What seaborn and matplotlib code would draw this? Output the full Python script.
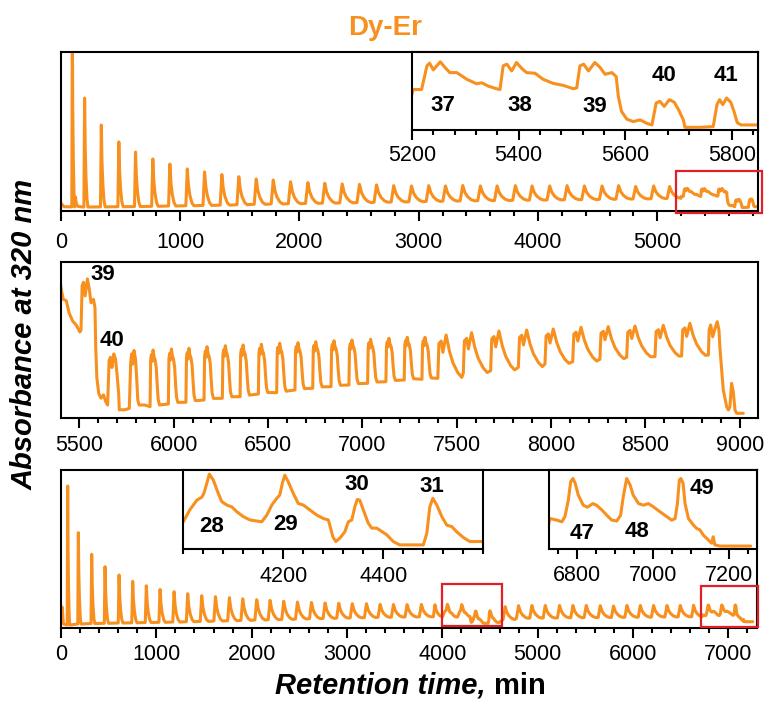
import matplotlib
matplotlib.use("Agg")
import matplotlib.pyplot as plt
import pandas as pd
import seaborn as sns
from matplotlib.patches import Rectangle
from matplotlib.ticker import MultipleLocator, FixedLocator

ORANGE = "#F7901E"
RED = "#E21F26"

# ---------------------------------------------------------------------------
# Run A (upper and middle panels): retention time in min, absorbance in a.u.
# ---------------------------------------------------------------------------
run_a_start_t = [0, 25]
run_a_start_y = [38, 13]

# individual elution peaks: apex time, apex height, baseline before, width
run_a_peak_t = [95, 122, 198, 338, 485, 625, 770, 913, 1059, 1204, 1349, 1491, 1637,
                1780, 1925, 2070, 2212, 2358, 2503, 2646, 2790, 2939, 3084, 3224, 3369,
                3517, 3657, 3810, 3950, 4098, 4244, 4389, 4537, 4676, 4819, 4970, 5104]
run_a_peak_y = [1250, 80, 766, 579, 462, 392, 344, 309, 275, 254, 236, 221, 205,
                198, 186, 180, 175, 171, 168, 164, 159, 157, 159, 157, 160,
                157, 157, 159, 157, 157, 159, 157, 157, 159, 153, 157, 153]
run_a_peak_base = [12, 15, 11, 12, 13, 14, 16, 18, 20, 22, 24, 27, 30,
                   32, 34, 36, 38, 40, 42, 44, 46, 48, 50, 52, 54,
                   55, 56, 58, 59, 60, 62, 63, 64, 66, 67, 69, 71]
run_a_peak_w = [20, 20, 28, 32, 36, 40, 45, 50, 55, 60, 65, 70, 75,
                80, 84, 88, 90, 92, 94, 95, 96, 97, 98, 98, 99,
                100, 100, 100, 100, 100, 100, 100, 100, 100, 100, 100, 95]

# fractions 37-41 in detail
run_a_detail_t = [5202, 5218, 5228, 5233, 5240, 5253, 5262, 5271, 5284, 5303, 5321, 5331,
                  5343, 5359, 5365, 5371, 5378, 5387, 5396, 5406, 5415, 5431, 5446, 5465,
                  5484, 5503, 5509, 5515, 5522, 5531, 5543, 5553, 5562, 5575, 5583, 5587,
                  5593, 5603, 5615, 5628, 5640, 5650, 5658, 5665, 5673, 5683, 5692, 5700,
                  5709, 5712, 5740, 5765, 5772, 5777, 5783, 5790, 5798, 5804, 5810, 5817,
                  5847]
run_a_detail_y = [84.6, 84.6, 132.3, 137.8, 124.1, 140.5, 128.9, 118.7, 118.7, 105.1, 96.2, 98.2,
                  91.4, 86.0, 84.6, 132.3, 135.7, 122.1, 139.1, 126.9, 118.7, 117.3, 105.1, 96.9,
                  92.8, 86.0, 88.0, 132.3, 135.7, 122.1, 139.1, 128.9, 115.3, 118.7, 110.5, 71.0,
                  40.3, 24.6, 19.8, 23.2, 16.4, 13.0, 57.3, 60.7, 50.5, 64.1, 58.7, 43.7,
                  23.2, 8.2, 8.2, 9.6, 53.9, 64.1, 53.9, 67.5, 58.7, 40.3, 17.8, 13.0,
                  13.0]

# pulsed fractions after 5850 min: onset, top, baseline before
run_a_pulse_t = [5875, 5972, 6065, 6161, 6258, 6352, 6449, 6546, 6643, 6737, 6834, 6929, 7028,
                 7125, 7222, 7316, 7400, 7535, 7680, 7827, 7968, 8115, 8259, 8401, 8551, 8692]
run_a_pulse_top = [68, 69, 69.7, 71.3, 72.3, 73, 73.7, 74.7, 75.3, 76.3, 77.3, 78, 78.7,
                   79.7, 80.7, 80.7, 83, 85.3, 87, 88, 89, 90.7, 91.3, 92, 92.7, 94.7]
run_a_pulse_base = [11.3, 14, 15.7, 18, 19.7, 21.3, 24, 25.3, 28, 29.7, 31.3, 33, 34.7,
                    36.3, 38, 38.7, 39.7, 44.7, 47.3, 50.7, 54, 56.3, 58.7, 60.7, 61.3, 62]

run_a_tail_t = [8834, 8838, 8846, 8857, 8870, 8881, 8890, 8896, 8913, 8931, 8940, 8948,
                8957, 8966, 8975, 8984, 9019]
run_a_tail_y = [63, 88, 93, 81.3, 90, 96.3, 88, 68, 28, 11.3, 8, 11.3,
                34.7, 26.3, 8, 4.7, 4.7]

# ---------------------------------------------------------------------------
# Run B (lower panel)
# ---------------------------------------------------------------------------
run_b_start_t = [0, 12, 25]
run_b_start_y = [12, 21, 4]

run_b_peak1_t = [70, 182, 322, 462, 609, 752, 895, 1039, 1186, 1329, 1476, 1620, 1766, 1906,
                 2053, 2193, 2336, 2480, 2627, 2770, 2913, 3055, 3204, 3347, 3487, 3630, 3780, 3922]
run_b_peak1_y = [142, 95.3, 73.7, 61.3, 53, 46.7, 42.2, 38.5, 36.3, 34.3, 32.3, 31.3, 30.3, 29.2,
                 28.3, 27.6, 26.7, 26, 25.5, 25, 24.7, 24.3, 24.3, 23.6, 23.5, 23.4, 23.5, 23.2]
run_b_peak1_base = [3, 4, 4.5, 4.7, 5, 5.2, 5.5, 5.7, 6, 6.3, 6.6, 7, 7.3, 7.6,
                    8, 8.3, 8.6, 9, 9.3, 9.6, 9.9, 10.2, 10.5, 10.7, 10.9, 11, 11.2, 11.3]
run_b_peak1_w = [22, 28, 32, 36, 40, 45, 50, 55, 60, 65, 70, 75, 80, 84,
                 88, 90, 92, 94, 95, 96, 97, 98, 98, 99, 100, 100, 100, 75]

# fractions 28-31 in detail
run_b_detail1_t = [4000, 4013, 4027, 4037, 4041, 4047, 4052, 4060, 4070, 4077, 4087, 4097,
                   4107, 4120, 4133, 4157, 4167, 4177, 4187, 4193, 4198, 4203, 4210, 4220,
                   4230, 4240, 4253, 4267, 4280, 4290, 4293, 4299, 4305, 4313, 4323, 4330,
                   4337, 4343, 4348, 4353, 4360, 4370, 4377, 4387, 4397, 4407, 4420, 4433,
                   4480, 4487, 4493, 4499, 4507, 4517, 4527, 4537, 4547, 4560, 4573, 4597]
run_b_detail1_y = [10.9, 14.1, 16.7, 17.5, 18.5, 21.2, 23.7, 22.1, 18.5, 16.3, 15.4, 14.9,
                   13.6, 12.3, 11.4, 10.9, 12.7, 15.4, 17.2, 18.1, 21.2, 23.4, 21.6, 18.5,
                   15.8, 15.4, 14.1, 12.7, 11.8, 11.4, 10.0, 6.9, 5.6, 6.5, 8.2, 10.9,
                   11.4, 14.9, 16.9, 16.7, 14.1, 10.5, 9.2, 9.2, 8.3, 7.4, 5.6, 4.7,
                   4.7, 7.8, 14.9, 17.2, 15.4, 12.3, 10.0, 9.6, 8.2, 6.7, 5.6, 5.6]

run_b_peak2_t = [4659, 4799, 4939, 5079, 5229, 5369, 5509, 5656, 5795, 5936, 6076, 6215,
                 6356, 6495, 6635]
run_b_peak2_y = [21.3, 22.3, 22.5, 22.5, 22.5, 22.5, 22.5, 22.3, 22, 22.5, 22.5, 22.5,
                 22.5, 22.5, 22.7]
run_b_peak2_base = [8.5, 9.7, 10, 10, 10.2, 10.3, 10.5, 10.5, 10.6, 10.8, 10.8, 11,
                    11, 11.2, 11.3]
run_b_peak2_w = [100, 100, 100, 100, 100, 100, 100, 100, 100, 100, 100, 100,
                 100, 100, 90]

# fractions 47-49 in detail
run_b_detail2_t = [6730, 6748, 6761, 6769, 6778, 6784, 6790, 6796, 6804, 6817, 6828, 6842,
                   6852, 6866, 6879, 6892, 6905, 6915, 6922, 6931, 6940, 6948, 6962, 6975,
                   6988, 7001, 7018, 7036, 7049, 7058, 7064, 7069, 7073, 7079, 7084, 7093,
                   7106, 7114, 7123, 7132, 7145, 7154, 7158, 7162, 7176, 7245, 7256]
run_b_detail2_y = [13.1, 12.7, 12.3, 13.6, 17.7, 22.2, 23.0, 21.8, 18.9, 16.4, 15.9, 16.8,
                   16.4, 15.2, 13.9, 12.7, 12.5, 13.9, 18.5, 23.0, 21.4, 18.9, 16.8, 16.4,
                   16.8, 16.0, 14.8, 13.6, 12.7, 13.1, 16.8, 22.6, 23.0, 21.8, 16.8, 13.1,
                   11.5, 10.7, 10.3, 9.0, 7.8, 7.0, 8.6, 6.6, 6.3, 6.3, 6.3]

# fraction numbers written on the panels
inset1_labels = ["37", "38", "39", "40", "41"]
inset1_label_t = [5258, 5403, 5543, 5672, 5789]
inset1_label_y = [52.5, 52.5, 50.5, 111.9, 111.9]
mid_labels = ["39", "40"]
mid_label_t = [5627, 5675]
mid_label_y = [143, 77.3]
insetA_labels = ["28", "29", "30", "31"]
insetA_label_t = [4057, 4205, 4348, 4497]
insetA_label_y = [9.6, 10.3, 20.8, 20.5]
insetB_labels = ["47", "48", "49"]
insetB_label_t = [6813, 6957, 7128]
insetB_label_y = [9.3, 9.85, 20.5]

# ---------------------------------------------------------------------------
# peak outlines (offset, fraction of height above the local baseline)
# ---------------------------------------------------------------------------
SPIKE_PROFILE = [(-0.22, 0.0), (0.0, 1.0), (0.18, 0.55), (0.4, 0.28), (0.7, 0.08), (1.0, 0.0)]
PULSE_NARROW = [(0, 0.0), (3, 0.82), (7, 0.92), (11, 0.8), (16, 1.0), (21, 0.88),
                (27, 0.82), (33, 0.68), (38, 0.38), (43, 0.13), (50, 0.03)]
PULSE_WIDE = [(0, 0.0), (6, 0.8), (18, 0.86), (27, 0.6), (44, 1.0), (62, 0.62),
              (80, 0.36), (106, 0.13), (127, 0.02)]


def spike_outline(times, heights, bases, widths):
    xs, ys = [], []
    for t, h, b, w in zip(times, heights, bases, widths):
        for dt, f in SPIKE_PROFILE:
            xs.append(t + dt * w)
            ys.append(b + f * (h - b))
    return xs, ys


def pulse_outline(onsets, tops, bases, stop):
    xs, ys = [], []
    following = list(onsets[1:]) + [stop]
    for t0, top, b, t1 in zip(onsets, tops, bases, following):
        prof = PULSE_NARROW if t1 - t0 < 120 else PULSE_WIDE
        for dt, f in prof:
            xs.append(t0 + dt)
            ys.append(b + f * (top - b))
    return xs, ys


xa, ya = list(run_a_start_t), list(run_a_start_y)
sx, sy = spike_outline(run_a_peak_t, run_a_peak_y, run_a_peak_base, run_a_peak_w)
xa += sx + run_a_detail_t
ya += sy + run_a_detail_y
px, py = pulse_outline(run_a_pulse_t, run_a_pulse_top, run_a_pulse_base, run_a_tail_t[0])
xa += px + run_a_tail_t
ya += py + run_a_tail_y
run_a = pd.DataFrame({"time": xa, "absorbance": ya})

xb, yb = list(run_b_start_t), list(run_b_start_y)
sx, sy = spike_outline(run_b_peak1_t, run_b_peak1_y, run_b_peak1_base, run_b_peak1_w)
xb += sx + run_b_detail1_t
yb += sy + run_b_detail1_y
sx, sy = spike_outline(run_b_peak2_t, run_b_peak2_y, run_b_peak2_base, run_b_peak2_w)
xb += sx + run_b_detail2_t
yb += sy + run_b_detail2_y
run_b = pd.DataFrame({"time": xb, "absorbance": yb})

# ---------------------------------------------------------------------------
# figure
# ---------------------------------------------------------------------------
sns.set_style("ticks")
plt.rcParams["font.family"] = ["Liberation Sans", "DejaVu Sans"]
plt.rcParams["text.color"] = "black"
plt.rcParams["axes.labelcolor"] = "black"
plt.rcParams["xtick.color"] = "black"
plt.rcParams["xtick.labelcolor"] = "black"

W, H = 766, 705
fig = plt.figure(figsize=(W / 100, H / 100), dpi=100)


def box(left, top, right, bottom):
    return [left / W, 1 - bottom / H, (right - left) / W, (bottom - top) / H]


ax1 = fig.add_axes(box(61, 52, 758, 211))
ax2 = fig.add_axes(box(61, 262, 758, 418))
ax3 = fig.add_axes(box(61, 470, 757, 628))
in1 = fig.add_axes(box(412, 52, 758, 130))
inA = fig.add_axes(box(183.3, 470, 483.3, 549))
inB = fig.add_axes(box(549.3, 470, 756.7, 549.3))


def draw(ax, df, xlim, ylim, major, minor, pad):
    sns.lineplot(data=df, x="time", y="absorbance", ax=ax, color=ORANGE,
                 linewidth=2.2, sort=False, estimator=None)
    ax.set(xlabel="", ylabel="")
    ax.set_xlim(*xlim)
    ax.set_ylim(*ylim)
    ax.set_facecolor("white")
    ax.xaxis.set_major_locator(major)
    ax.xaxis.set_minor_locator(MultipleLocator(minor))
    ax.tick_params(axis="x", which="major", direction="out", length=7, width=1.5,
                   labelsize=15.5, pad=pad, bottom=True, top=False,
                   colors="black", labelcolor="black")
    ax.tick_params(axis="x", which="minor", direction="out", length=3.5, width=1.5,
                   bottom=True, top=False, colors="black")
    ax.tick_params(axis="y", left=False, right=False, labelleft=False)
    ax.set_yticks([])
    for s in ax.spines.values():
        s.set_visible(True)
        s.set_linewidth(1.5)
        s.set_color("black")


draw(ax1, run_a, (0, 5845), (-16.6, 1085), MultipleLocator(1000), 200, 8)
draw(ax2, run_a, (5403, 9097), (0, 156), MultipleLocator(500), 100, 5)
draw(ax3, run_b, (0, 7300), (0, 158), MultipleLocator(1000), 200, 4.5)
draw(in1, run_a, (5200, 5849), (2.8, 160.3), MultipleLocator(200), 40, 4)
draw(inA, run_b, (4000, 4600), (3.6, 24.8), FixedLocator([4200, 4400]), 40, 5)
draw(inB, run_b, (6728, 7272), (5.5, 25.1), MultipleLocator(200), 50, 4)

label_kw = dict(fontsize=16, fontweight="bold", ha="center", va="center", color="black")
for ax, texts, ts, ys in [(in1, inset1_labels, inset1_label_t, inset1_label_y),
                          (ax2, mid_labels, mid_label_t, mid_label_y),
                          (inA, insetA_labels, insetA_label_t, insetA_label_y),
                          (inB, insetB_labels, insetB_label_t, insetB_label_y)]:
    for s, t, y in zip(texts, ts, ys):
        ax.text(t, y, s, **label_kw)

# zoom windows
for ax, (x0, y0, x1, y1) in [(ax1, (5160, -28, 5878, 260)),
                             (ax3, (3995, 2, 4624, 43.7)),
                             (ax3, (6712, 1.3, 7306, 42.3))]:
    ax.add_patch(Rectangle((x0, y0), x1 - x0, y1 - y0, fill=False, edgecolor=RED,
                           linewidth=1.6, clip_on=False, zorder=5))

fig.text(385 / W, 1 - 35 / H, "Dy-Er", color=ORANGE, fontsize=20, fontweight="bold",
         ha="center", va="baseline")
fig.text(25 / W, 1 - 334 / H, "Absorbance at 320 nm", fontsize=21, fontweight="bold",
         fontstyle="italic", rotation=90, ha="center", va="center", color="black")

renderer = fig.canvas.get_renderer()
base_y = 1 - 694 / H
xl1 = fig.text(0, base_y, "Retention time,", fontsize=21, fontweight="bold",
               fontstyle="italic", ha="left", va="baseline", color="black")
xl2 = fig.text(0, base_y, "min", fontsize=21, fontweight="bold", ha="left",
               va="baseline", color="black")
w1 = xl1.get_window_extent(renderer).width
w2 = xl2.get_window_extent(renderer).width
gap = 0.28 * 21 * 100 / 72
start = 410 - (w1 + gap + w2) / 2
xl1.set_x(start / W)
xl2.set_x((start + w1 + gap) / W)

fig.savefig("out.png", dpi=100)
